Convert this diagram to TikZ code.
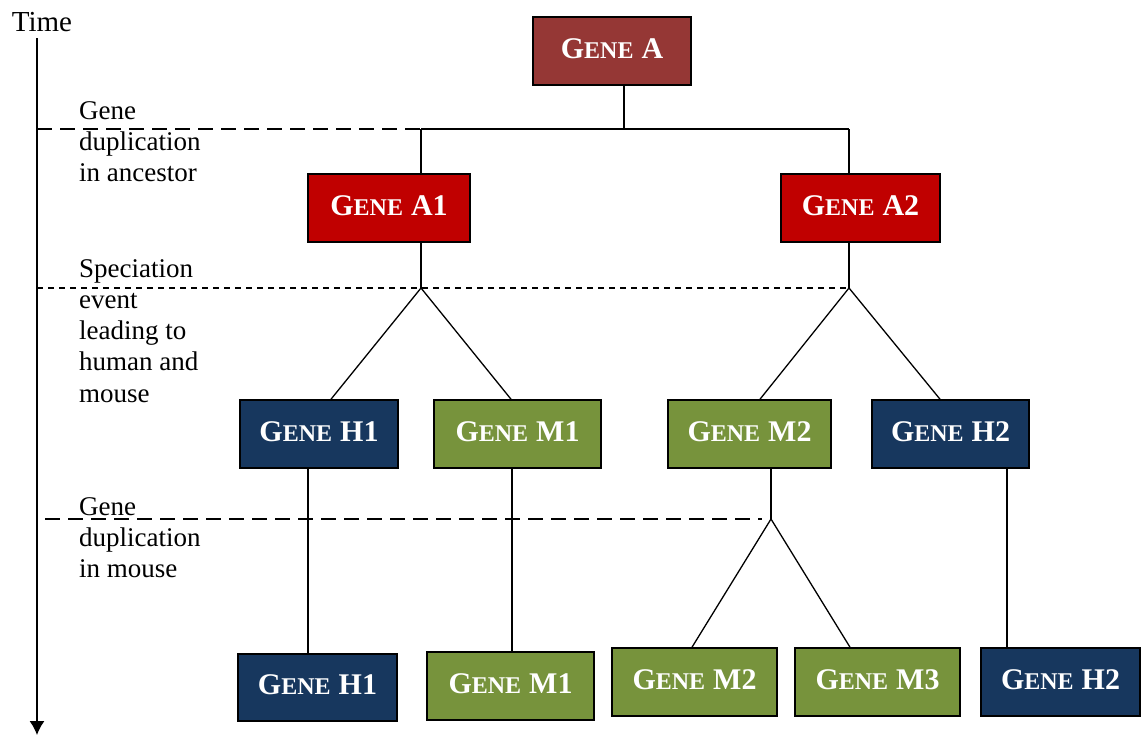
\documentclass[tikz,border=0pt]{standalone}
\usepackage{fontspec}
\setmainfont{Liberation Serif}
\usetikzlibrary{arrows.meta}
\definecolor{cA}{HTML}{953735}
\definecolor{cA1}{HTML}{C00000}
\definecolor{cH}{HTML}{17375E}
\definecolor{cM}{HTML}{77933C}
\newcommand{\gname}[1]{{\fontsize{30}{32}\selectfont G}{\fontsize{24}{26}\selectfont ENE}\hspace{8pt}{\fontsize{30}{32}\selectfont #1}}
\tikzset{
  gbox/.style={draw=black, line width=1.6pt, minimum height=68pt, inner sep=0pt, text=white, font=\bfseries, text height=20pt, text depth=6pt},
  conn/.style={line width=1.3pt},
  lbl/.style={anchor=north west, align=left, inner sep=0pt, font=\fontsize{27}{31.3}\selectfont},
}
\begin{document}
\begin{tikzpicture}[x=1pt,y=-1pt]
\useasboundingbox (0,0) rectangle (1142,736);
% boxes
\node[gbox, fill=cA, minimum width=158pt] (gA) at (612,51) {\gname{A}};
\node[gbox, fill=cA1, minimum width=162pt] (gA1) at (389,208) {\gname{A1}};
\node[gbox, fill=cA1, minimum width=159pt] (gA2) at (860.5,208) {\gname{A2}};
\node[gbox, fill=cH, minimum width=158pt] (h1) at (319,434) {\gname{H1}};
\node[gbox, fill=cM, minimum width=167pt] (m1) at (517.5,434) {\gname{M1}};
\node[gbox, fill=cM, minimum width=163pt] (m2) at (749.5,434) {\gname{M2}};
\node[gbox, fill=cH, minimum width=157pt] (h2) at (950.5,434) {\gname{H2}};
\node[gbox, fill=cH, minimum width=159pt, minimum height=67pt] (h1b) at (317.5,687.5) {\gname{H1}};
\node[gbox, fill=cM, minimum width=167pt] (m1b) at (510.5,686) {\gname{M1}};
\node[gbox, fill=cM, minimum width=165pt] (m2b) at (694.5,682) {\gname{M2}};
\node[gbox, fill=cM, minimum width=165pt] (m3b) at (877.5,682) {\gname{M3}};
\node[gbox, fill=cH, minimum width=159pt] (h2b) at (1060.5,682) {\gname{H2}};
% time axis
\node[font=\fontsize{29}{31}\selectfont, inner sep=0pt] (time) at (42,22) {Time};
\coordinate (t0) at (37,38);
\coordinate (t1) at (37,735);
\draw[line width=1.3pt, -{Latex[length=14pt,width=15pt]}] (t0) -- (t1);
% coordinates
\coordinate (j0) at (624,129);
\coordinate (ja1) at (421,129);
\coordinate (ja2) at (849,129);
\coordinate (s1) at (421,288);
\coordinate (s2) at (849,288);
\coordinate (d) at (771,519);
\coordinate (xh1) at (308,0);
\coordinate (xm1) at (512,0);
\coordinate (xh2) at (1007,0);
% dashed lines
\draw[line width=1.3pt, dash pattern=on 15pt off 8pt] (t0 |- j0) -- (ja1);
\draw[line width=1.3pt, dash pattern=on 6pt off 5pt] (t0 |- s1) -- (s2);
\draw[line width=1.3pt, dash pattern=on 15pt off 8pt] (45,519) -- ([xshift=-9pt]d);
% connectors
\draw[conn] (gA.south -| j0) -- (j0);
\draw[conn] (ja1) -- (ja2);
\draw[conn] (ja1) -- (ja1 |- gA1.north);
\draw[conn] (ja2) -- (ja2 |- gA2.north);
\draw[conn] (s1 |- gA1.south) -- (s1);
\draw[conn] (s2 |- gA2.south) -- (s2);
\draw[conn] (s1) -- ([xshift=12pt]h1.north);
\draw[conn] (s1) -- ([xshift=-6.5pt]m1.north);
\draw[conn] (s2) -- ([xshift=10.5pt]m2.north);
\draw[conn] (s2) -- ([xshift=-10.5pt]h2.north);
\draw[conn] (h1.south -| xh1) -- (h1b.north -| xh1);
\draw[conn] (m1.south -| xm1) -- (m1b.north -| xm1);
\draw[conn] (m2.south -| d) -- (d);
\draw[conn] (d) -- ([xshift=-2.5pt]m2b.north);
\draw[conn] (d) -- ([xshift=-27.5pt]m3b.north);
\draw[conn] (h2.south -| xh2) -- (h2b.north -| xh2);
% labels
\node[lbl] (l1) at (79,101) {Gene\\duplication\\in ancestor};
\node[lbl] (l2) at (79,259) {Speciation\\event\\leading to\\human and\\mouse};
\node[lbl] (l3) at (79,497) {Gene\\duplication\\in mouse};
\end{tikzpicture}
\end{document}
